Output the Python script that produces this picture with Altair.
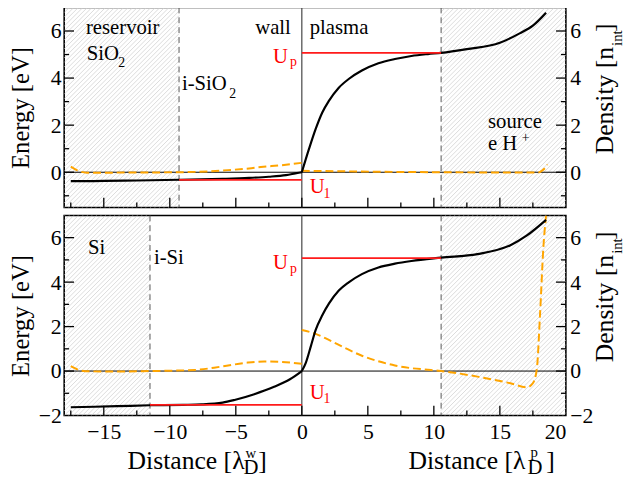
import math
import altair as alt
import pandas as pd

FONT = "Liberation Serif, Times New Roman, DejaVu Serif, serif"
XDOM = [-18, 20]
W, H = 509, 203

# ---------------- data ----------------
# region boundaries
wall_edge_top = -9.3
wall_edge_bot = -11.5
plasma_edge = 10.55
U1_top, Up_top = -0.32, 5.07
U1_bot, Up_bot = -1.52, 5.08

# top panel (SiO2): energy profile
x_top_wall_E = [-17.5, -15, -12.5, -9.3, -6, -4, -2.5, -1.2, -0.5, 0]
E_top_wall = [-0.38, -0.37, -0.35, -0.32, -0.28, -0.24, -0.19, -0.12, -0.05, 0]
x_top_plasma_E = [0, 0.55, 1.05, 1.55, 2.05, 2.8, 3.55, 4.55, 5.8, 7.05, 8.3, 9.55,
                  10.55, 12.5, 15, 16.5, 17.5, 18.5]
E_top_plasma = [0, 1.0, 1.84, 2.54, 3.03, 3.59, 3.96, 4.32, 4.63, 4.81, 4.94, 5.02,
                5.07, 5.23, 5.5, 5.9, 6.23, 6.78]
# top panel: density
x_top_wall_n = [-17.5, -16.8, -16.3, -12, -9.3, -7, -5.6, -4, -3.1, -1.5, 0]
n_top_wall = [0.24, 0.03, -0.02, -0.01, 0.0, 0.04, 0.09, 0.16, 0.22, 0.3, 0.4]
x_top_plasma_n = [0, 3, 6, 10.5, 15, 17.9, 18.2, 18.45, 18.6]
n_top_plasma = [0.06, 0.04, 0.02, 0.0, -0.01, -0.01, 0.07, 0.2, 0.33]

# bottom panel (Si): energy profile
x_bot_wall_E = [-17.5, -14, -11.5, -9, -7.6, -6, -5.1, -3.6, -2.1, -0.9, 0]
E_bot_wall = [-1.63, -1.58, -1.54, -1.52, -1.5, -1.42, -1.3, -1.04, -0.71, -0.37, 0]
x_bot_plasma_E = [0, 0.3, 0.68, 1.05, 1.55, 2.05, 2.8, 3.55, 4.55, 5.8, 7.05, 8.3,
                  10.55, 13.3, 15.8, 17.05, 18.5]
E_bot_plasma = [0, 0.37, 1.11, 1.85, 2.51, 3.03, 3.62, 3.99, 4.36, 4.66, 4.83, 4.95,
                5.1, 5.26, 5.66, 6.1, 6.8]
# bottom panel: density
x_bot_wall_n = [-17.5, -16.9, -16.4, -14, -11.5, -8.1, -6.1, -4.1, -2.85, -1.6, 0]
n_bot_wall = [0.22, 0.05, -0.01, -0.02, 0.0, 0.05, 0.2, 0.38, 0.43, 0.41, 0.33]
x_bot_plasma_n = [0, 1.05, 2.05, 3.3, 4.55, 5.8, 7.05, 8.3, 9.55, 10.55, 13.3, 15.8,
                  17.05, 17.5, 17.8, 18.05, 18.3, 18.5]
n_bot_plasma = [1.85, 1.67, 1.4, 1.03, 0.69, 0.44, 0.25, 0.13, 0.06, 0.0, -0.25, -0.55,
                -0.73, -0.55, 0.1, 2.63, 5.6, 7.0]

# ticks
x_labels = [-15, -10, -5, 0, 5, 10, 15, 20]
x_major = [-15, -10, -5, 0, 5, 10, 15]
x_minor = [-17.5, -12.5, -7.5, -2.5, 2.5, 7.5, 12.5, 17.5]
y_top_labels = [0, 2, 4, 6]
y_bot_labels = [-2, 0, 2, 4, 6]
y_major = [0, 2, 4, 6]
y_minor = [-1, 1, 3, 5]

# annotations: (text, x, y, size, color)
notes_top_left = [
    ("reservoir", -16.35, 5.89, 21, "black"),
    ("SiO", -16.3, 4.77, 21, "black"),
    ("2", -13.9, 4.49, 14, "black"),
    ("i-SiO", -9.08, 3.51, 21, "black"),
    ("2", -5.5, 3.17, 14, "black"),
    ("plasma", 0.6, 5.89, 21, "black"),
    ("p", -0.9, 4.5, 14, "red"),
    ("U", 0.6, -0.88, 21, "red"),
    ("1", 1.65, -1.09, 14, "red"),
    ("source", 14.1, 1.87, 21, "black"),
    ("e H", 14.1, 0.93, 21, "black"),
    ("+", 16.65, 1.3, 14, "black"),
]
notes_top_right = [
    ("wall", -0.83, 5.89, 21, "black"),
    ("U", -1.05, 4.64, 21, "red"),
]
notes_bot_left = [
    ("Si", -16.2, 5.25, 21, "black"),
    ("i-Si", -11.2, 4.8, 21, "black"),
    ("p", -0.9, 4.4, 14, "red"),
    ("U", 0.6, -1.27, 21, "red"),
    ("1", 1.65, -1.45, 14, "red"),
]
notes_bot_right = [
    ("U", -1.05, 4.58, 21, "red"),
]


def hatch_rows(x0, x1, ymin, ymax, step=4.6):
    """45-degree hatch segments covering the data rectangle [x0,x1] x [ymin,ymax]."""
    sx = W / (XDOM[1] - XDOM[0])
    sy = H / (ymax - ymin)
    X0 = (x0 - XDOM[0]) * sx
    X1 = (x1 - XDOM[0]) * sx
    rows = []
    c = math.floor((X0 - H) / step) * step
    while c <= X1:
        lo = max(0.0, X0 - c)
        hi = min(float(H), X1 - c)
        if hi > lo:
            rows.append({"x": (lo + c) / sx + XDOM[0], "y": lo / sy + ymin,
                         "x2": (hi + c) / sx + XDOM[0], "y2": hi / sy + ymin})
        c += step
    return rows


def segs(pairs):
    rows = []
    for name, xs, ys in pairs:
        for a, b in zip(xs, ys):
            rows.append({"x": a, "y": b, "seg": name})
    return pd.DataFrame(rows)


def make_panel(ymin, ylabels, wall_edge, U1, Up, E_pairs, n_pairs, notes_l, notes_r, show_x):
    ymax = 7
    yscale = alt.Scale(domain=[ymin, ymax], nice=False, zero=False)
    xscale = alt.Scale(domain=XDOM, nice=False, zero=False)
    yaxis = alt.Axis(values=ylabels, ticks=False, domain=False, grid=False,
                     title="Energy [eV]", titlePadding=9, labelPadding=3,
                     minExtent=22, maxExtent=22)
    if show_x:
        xaxis = alt.Axis(values=x_labels, ticks=False, domain=False, grid=False,
                         title=None, labelPadding=6)
    else:
        xaxis = None

    def X(f):
        return alt.X(f, type="quantitative", scale=xscale, axis=xaxis)

    def Y(f):
        return alt.Y(f, type="quantitative", scale=yscale, axis=yaxis)

    layers = []
    # hatched regions
    hrows = hatch_rows(XDOM[0], wall_edge, ymin, ymax) + hatch_rows(plasma_edge, XDOM[1], ymin, ymax)
    layers.append(alt.Chart(pd.DataFrame(hrows)).mark_rule(color="#cccccc", strokeWidth=0.7).encode(
        x=X("x"), y=Y("y"), x2="x2", y2="y2"))
    # dashed region boundaries
    layers.append(alt.Chart(pd.DataFrame({"x": [wall_edge, plasma_edge]})).mark_rule(
        color="#555555", strokeWidth=1, strokeDash=[6, 4]).encode(x=X("x")))
    # wall surface
    layers.append(alt.Chart(pd.DataFrame({"x": [0]})).mark_rule(color="#444444", strokeWidth=1.2).encode(x=X("x")))
    # zero line
    layers.append(alt.Chart(pd.DataFrame({"y": [0]})).mark_rule(color="black", strokeWidth=1).encode(y=Y("y")))
    # density (orange dashed)
    layers.append(alt.Chart(segs(n_pairs)).mark_line(
        color="#ffa500", strokeWidth=2, strokeDash=[8, 4], interpolate="monotone", clip=True).encode(
        x=X("x"), y=Y("y"), detail="seg:N"))
    # energy (black)
    layers.append(alt.Chart(segs(E_pairs)).mark_line(
        color="black", strokeWidth=2.2, interpolate="monotone", clip=True).encode(
        x=X("x"), y=Y("y"), detail="seg:N"))
    # U1 / Up levels (drawn over the energy curve)
    lv = pd.DataFrame({"x": [wall_edge, 0], "x2": [0, plasma_edge], "y": [U1, Up]})
    layers.append(alt.Chart(lv).mark_rule(color="#ff1a1a", strokeWidth=1.8).encode(x=X("x"), x2="x2", y=Y("y")))
    # inward ticks
    layers.append(alt.Chart(pd.DataFrame({"t": x_major})).mark_rule(color="black", strokeWidth=1.3).encode(
        x=X("t"), y=alt.value(H), y2=alt.value(H - 10)))
    layers.append(alt.Chart(pd.DataFrame({"t": x_minor})).mark_rule(color="black", strokeWidth=1.3).encode(
        x=X("t"), y=alt.value(H), y2=alt.value(H - 5)))
    for xa, xb in [(0, 10), (W - 10, W)]:
        layers.append(alt.Chart(pd.DataFrame({"t": y_major})).mark_rule(color="black", strokeWidth=1.3).encode(
            y=Y("t"), x=alt.value(xa), x2=alt.value(xb)))
    for xa, xb in [(0, 5), (W - 5, W)]:
        layers.append(alt.Chart(pd.DataFrame({"t": y_minor})).mark_rule(color="black", strokeWidth=1.3).encode(
            y=Y("t"), x=alt.value(xa), x2=alt.value(xb)))
    # annotations
    for rows, align in [(notes_l, "left"), (notes_r, "right")]:
        df = pd.DataFrame(rows, columns=["t", "x", "y", "s", "c"])
        layers.append(alt.Chart(df).mark_text(align=align, baseline="alphabetic", font=FONT).encode(
            x=X("x"), y=Y("y"), text="t:N",
            size=alt.Size("s:Q", scale=None, legend=None),
            color=alt.Color("c:N", scale=None, legend=None)))
    # right axis title (Density [n_int]) as rotated text
    one = pd.DataFrame({"k": [0]})
    layers.append(alt.Chart(one).mark_text(text="Density [n", angle=270, align="right", baseline="alphabetic",
                                           font=FONT, fontSize=26, color="black").encode(
        x=alt.value(W + 48), y=alt.value(40)))
    layers.append(alt.Chart(one).mark_text(text="int", angle=270, align="left", baseline="alphabetic",
                                           font=FONT, fontSize=15, color="black").encode(
        x=alt.value(W + 57), y=alt.value(39)))
    layers.append(alt.Chart(one).mark_text(text="]", angle=270, align="left", baseline="alphabetic",
                                           font=FONT, fontSize=26, color="black").encode(
        x=alt.value(W + 48), y=alt.value(25)))
    if show_x:
        for txt, xv, yv, fs, al in [
            ("Distance [λ", 183, 257, 26, "right"), ("w", 184, 246, 15, "left"),
            ("D", 182, 262, 21, "left"), ("]", 197, 257, 26, "left"),
            ("Distance [λ", 468, 257, 26, "right"), ("p", 473, 245, 15, "left"),
            ("D", 470, 262, 21, "left"), ("]", 489, 257, 26, "left"),
        ]:
            layers.append(alt.Chart(one).mark_text(text=txt, align=al, baseline="alphabetic",
                                                   font=FONT, fontSize=fs, color="black").encode(
                x=alt.value(xv), y=alt.value(yv)))

    main = alt.layer(*layers)
    right = alt.Chart(pd.DataFrame({"v": ylabels})).mark_point(opacity=0).encode(
        y=alt.Y("v:Q", scale=alt.Scale(domain=[ymin, ymax], nice=False, zero=False),
                axis=alt.Axis(orient="right", values=ylabels, ticks=False, domain=False, grid=False,
                              title=None, labelPadding=4)))
    return alt.layer(main, right).resolve_scale(y="independent").properties(width=W, height=H)


top = make_panel(
    -1.5, y_top_labels, wall_edge_top, U1_top, Up_top,
    [("w", x_top_wall_E, E_top_wall), ("p", x_top_plasma_E, E_top_plasma)],
    [("w", x_top_wall_n, n_top_wall), ("p", x_top_plasma_n, n_top_plasma)],
    notes_top_left, notes_top_right, False)
bottom = make_panel(
    -2, y_bot_labels, wall_edge_bot, U1_bot, Up_bot,
    [("w", x_bot_wall_E, E_bot_wall), ("p", x_bot_plasma_E, E_bot_plasma)],
    [("w", x_bot_wall_n, n_bot_wall), ("p", x_bot_plasma_n, n_bot_plasma)],
    notes_bot_left, notes_bot_right, True)

chart = alt.vconcat(top, bottom, spacing=4).properties(
    padding={"left": 0, "top": -6, "right": 0, "bottom": 0}
).configure_view(stroke="black", strokeWidth=1.6).configure_axis(
    labelFont=FONT, labelFontSize=22, labelColor="black",
    titleFont=FONT, titleFontSize=25, titleFontWeight="normal", titleColor="black"
)

chart.save("out.html", embed_options={"renderer": "svg", "actions": False})
